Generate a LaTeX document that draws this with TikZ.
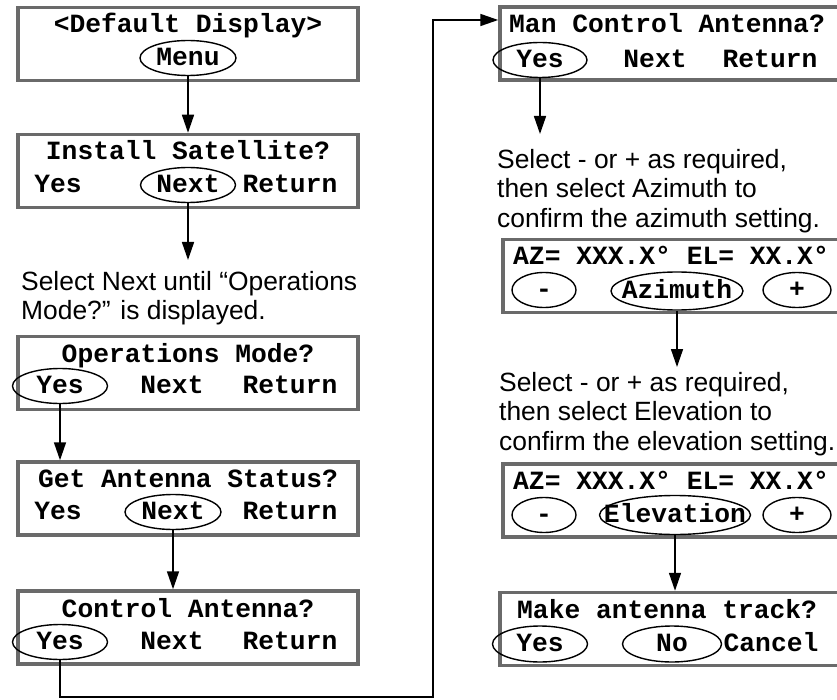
\documentclass[tikz,border=0pt]{standalone}
\usepackage{fontspec}
\setmainfont{Liberation Sans}
\newfontfamily\lcdfont{Liberation Mono}
\usetikzlibrary{shapes.geometric,arrows.meta}
\definecolor{framegray}{HTML}{6A6A6A}

\begin{document}
\begin{tikzpicture}[x=1pt, y=-1pt,
    screen/.style={draw=framegray, line width=3.5pt, minimum width=340pt, minimum height=73pt, inner sep=0pt},
    lcd/.style={font=\lcdfont\bfseries\fontsize{26.3}{30}\selectfont, inner sep=0pt, text height=15pt, text depth=0pt},
    hit/.style={ellipse, draw, line width=1.4pt, inner sep=0pt, minimum height=35pt, label={[lcd]center:#1}},
    note/.style={font=\fontsize{26.4}{29.5}\selectfont, align=left, inner sep=0pt, anchor=north west},
    flow/.style={line width=1.6pt, -{Triangle[length=18pt, width=12pt]}}]

  \useasboundingbox (0,0) rectangle (837,700);

  %% ===== LEFT COLUMN =====
  % Default display
  \node[screen] (defdisp) at (188,44) {};
  \node[lcd, anchor=base] at (188,33) {<Default Display>};
  \node[hit=Menu, minimum width=96pt] (menu) at (188,58) {};

  % Install satellite
  \node[screen] (instsat) at (188,171) {};
  \node[lcd, anchor=base] at (188,160) {Install Satellite?};
  \node[lcd] at (58,185) {Yes};
  \node[hit=Next, minimum width=95pt] (isNext) at (188,185) {};
  \node[lcd] at (290,185) {Return};

  \node[note] (note1) at (21,271) {Select Next until “Operations\\Mode?” is displayed.};

  % Operations mode
  \node[screen] (opmode) at (188,373) {};
  \node[lcd, anchor=base] at (188,362) {Operations Mode?};
  \node[hit=Yes, minimum width=95pt] (opYes) at (60,386) {};
  \node[lcd] at (172,386) {Next};
  \node[lcd] at (290,386) {Return};

  % Antenna status
  \node[screen] (getstat) at (188,498.5) {};
  \node[lcd, anchor=base] at (188,487) {Get Antenna Status?};
  \node[lcd] at (58,512) {Yes};
  \node[hit=Next, minimum width=96pt] (gsNext) at (173,512) {};
  \node[lcd] at (290,512) {Return};

  % Control antenna
  \node[screen] (ctrl) at (188,627.5) {};
  \node[lcd, anchor=base] at (188,617) {Control Antenna?};
  \node[hit=Yes, minimum width=95pt] (caYes) at (60,642) {};
  \node[lcd] at (172,642) {Next};
  \node[lcd] at (290,642) {Return};

  %% ===== RIGHT COLUMN =====
  % Manual control
  \node[screen] (mancon) at (670,43.5) {};
  \node[lcd, anchor=base west] at (509,33) {Man Control Antenna?};
  \node[hit=Yes, minimum width=94pt] (mcYes) at (540,60) {};
  \node[lcd] at (655,60) {Next};
  \node[lcd] at (770,60) {Return};

  \node[note] (note2) at (497,149) {Select - or + as required,\\then select Azimuth to\\confirm the azimuth setting.};

  % Azimuth setting
  \node[screen] (azset) at (673,276) {};
  \node[lcd, anchor=base west] at (513,265) {AZ= XXX.X° EL= XX.X°};
  \node[hit=-, minimum width=64pt] (azMinus) at (544,290) {};
  \node[hit=Azimuth, minimum width=132pt, minimum height=38pt] (azim) at (677,291) {};
  \node[hit=+, minimum width=68pt] (azPlus) at (797,290) {};

  \node[note] (note3) at (499,372) {Select - or + as required,\\then select Elevation to\\confirm the elevation setting.};

  % Elevation setting
  \node[screen] (elset) at (673,500.5) {};
  \node[lcd, anchor=base west] at (513,489) {AZ= XXX.X° EL= XX.X°};
  \node[hit=-, minimum width=64pt] (elMinus) at (544,515) {};
  \node[hit=Elevation, minimum width=151pt, minimum height=39pt] (elev) at (675,515) {};
  \node[hit=+, minimum width=68pt] (elPlus) at (797,515) {};

  % Tracking
  \node[screen] (track) at (670,629) {};
  \node[lcd, anchor=base west] at (517,618) {Make antenna track?};
  \node[hit=Yes, minimum width=95pt, minimum height=36pt] (trYes) at (540,644) {};
  \node[hit=No, minimum width=99pt, minimum height=36pt] (trNo) at (672,644) {};
  \node[lcd] at (771,644) {Cancel};

  %% ===== CONNECTORS =====
  \draw[flow] (menu.south) -- (menu.south |- instsat.north);
  \draw[flow, shorten >=11pt] (isNext.south) -- (isNext.south |- note1.north);
  \draw[flow] (opYes.south) -- (opYes.south |- getstat.north);
  \draw[flow] (gsNext.south) -- (gsNext.south |- ctrl.north);

  % Loop over to the right column
  \coordinate (loopbot) at (433,697);
  \coordinate (looptop) at (433,20);
  \draw[flow] (caYes.south) |- (loopbot) -- (looptop) -- (looptop -| mancon.west);

  \draw[flow, shorten >=15pt] (mcYes.south) -- (mcYes.south |- note2.north);
  \draw[flow, shorten >=5pt] (azim.south) -- (azim.south |- note3.north);
  \draw[flow] (elev.south) -- (elev.south |- track.north);

\end{tikzpicture}
\end{document}
